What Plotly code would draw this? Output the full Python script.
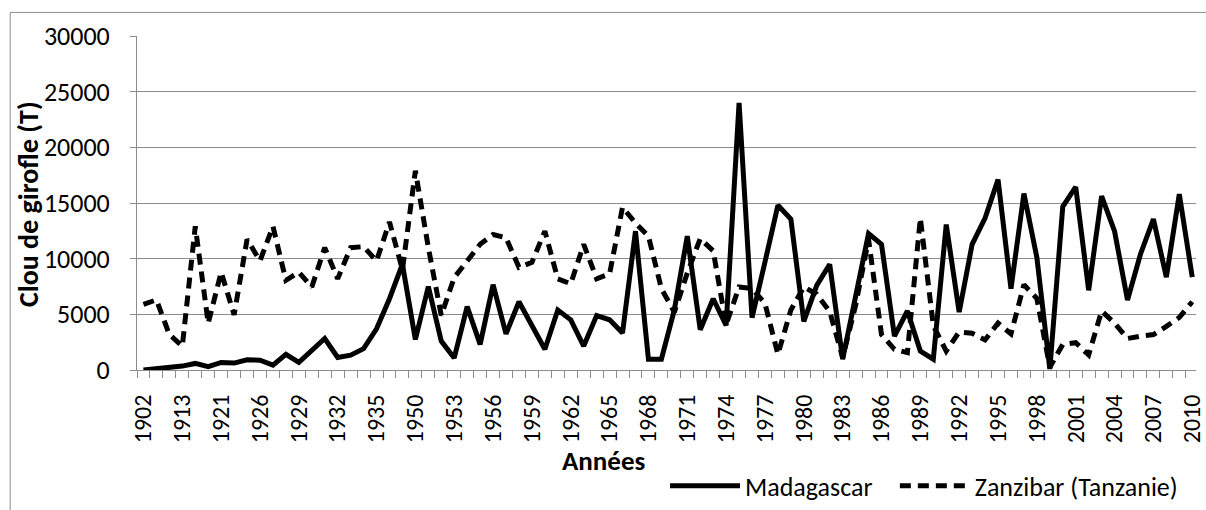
import plotly.graph_objects as go

# Campaign years (categorical axis; only every third one is labelled)
years = ["1902", "1906", "1910", "1913", "1916", "1919", "1921", "1923", "1925",
         "1926", "1927", "1928", "1929", "1930", "1931", "1932", "1933", "1934",
         "1935", "1940", "1945"] + [str(y) for y in range(1950, 2011)]

# Clove production, tonnes
madagascar = [0, 90, 200, 350, 590, 295, 680, 620, 910, 880,
              440, 1410, 680, 1710, 2830, 1120, 1330, 1920, 3700, 6400,
              9500, 2740, 7500, 2600, 1080, 5690, 2300, 7660, 3240, 6130,
              4070, 1860, 5390, 4510, 2150, 4890, 4510, 3330, 12470, 970,
              970, 5400, 12020, 3620, 6400, 4000, 24000, 4700, 9700, 14800,
              13560, 4360, 7600, 9500, 970, 6720, 12260, 11290, 3040, 5300,
              1700, 970, 13060, 5200, 11290, 13640, 17100, 7310, 15850, 10110,
              90, 14670, 16440, 7160, 15620, 12470, 6280, 10400, 13560, 8340,
              15800, 8340]

zanzibar = [5890, 6300, 3180, 2150, 12900, 4200, 8780, 4950, 11730, 9810,
            12900, 8050, 8780, 7460, 10990, 8190, 10990, 11080, 9800, 13300,
            9000, 17900, 11000, 4900, 8300, 9810, 11290, 12170, 11880, 9220,
            9670, 12470, 8190, 7750, 11290, 8190, 8640, 14620, 13200, 12020,
            7310, 5200, 8700, 11800, 10700, 4070, 7460, 7310, 5980, 1410,
            5390, 7460, 6800, 5250, 1120, 5800, 11730, 3180, 1860, 1560,
            13640, 4000, 1700, 3420, 3300, 2700, 4210, 3240, 7660, 6420,
            240, 2300, 2450, 1360, 5300, 4210, 2830, 3040, 3180, 3920,
            4720, 6130]

tick_labels = [y if i % 3 == 0 else "" for i, y in enumerate(years)]

FONT = "Carlito, Lato, sans-serif"
GRID = "#8c8c8c"

# plot area spans 137..1206 px horizontally, 36..376 px vertically
def px_x(p):
    return (p - 137) / 1069


def px_y(p):
    return (376 - p) / 340


fig = go.Figure()
fig.add_trace(go.Scatter(
    x=years, y=madagascar, mode="lines", name="Madagascar",
    line=dict(color="black", width=5), legend="legend",
))
fig.add_trace(go.Scatter(
    x=years, y=zanzibar, mode="lines", name="Zanzibar (Tanzanie)",
    line=dict(color="black", width=5, dash="11px,7px"), legend="legend2",
))

legend_common = dict(
    orientation="h", xanchor="left", yanchor="middle", y=px_y(494),
    font=dict(size=26, family=FONT), bgcolor="rgba(0,0,0,0)",
    itemwidth=70,
)

fig.update_layout(
    width=1206, height=510,
    margin=dict(l=137, r=0, t=36, b=134),
    paper_bgcolor="white", plot_bgcolor="white",
    font=dict(family=FONT, color="black"),
    showlegend=True,
    legend=dict(x=px_x(670), **legend_common),
    legend2=dict(x=px_x(902), **legend_common),
    xaxis=dict(
        type="category", categoryorder="array", categoryarray=years,
        range=[-0.5, 81.29],
        tickmode="array", tickvals=years, ticktext=tick_labels,
        tickson="boundaries", ticks="outside", ticklen=7, tickcolor=GRID,
        tickangle=-90, tickfont=dict(size=24, family=FONT),
        ticklabelstandoff=14,
        showgrid=False, showline=True, linecolor=GRID, linewidth=1,
        zeroline=False,
    ),
    yaxis=dict(
        range=[0, 30000], dtick=5000, tickformat="d",
        ticks="outside", ticklen=6, tickcolor=GRID,
        tickfont=dict(size=26, family=FONT), ticklabelstandoff=15,
        showgrid=True, gridcolor=GRID, gridwidth=1,
        showline=True, linecolor=GRID, linewidth=1, zeroline=False,
    ),
    annotations=[
        dict(text="<b>Années</b>", xref="paper", yref="paper",
             x=px_x(608), y=px_y(468),
             xanchor="center", yanchor="middle", showarrow=False,
             font=dict(size=27, family=FONT)),
        dict(text="<b>Clou de girofle (T)</b>", xref="paper", yref="paper",
             x=px_x(28), y=px_y(207), textangle=-90,
             xanchor="center", yanchor="middle", showarrow=False,
             font=dict(size=28, family=FONT)),
    ],
    shapes=[
        dict(type="line", xref="paper", yref="paper",
             x0=px_x(9), x1=1.01, y0=px_y(12), y1=px_y(12),
             line=dict(color=GRID, width=1)),
        dict(type="line", xref="paper", yref="paper",
             x0=px_x(9), x1=px_x(9), y0=px_y(12), y1=px_y(530),
             line=dict(color=GRID, width=1)),
    ],
)

fig.write_html("out.html")
